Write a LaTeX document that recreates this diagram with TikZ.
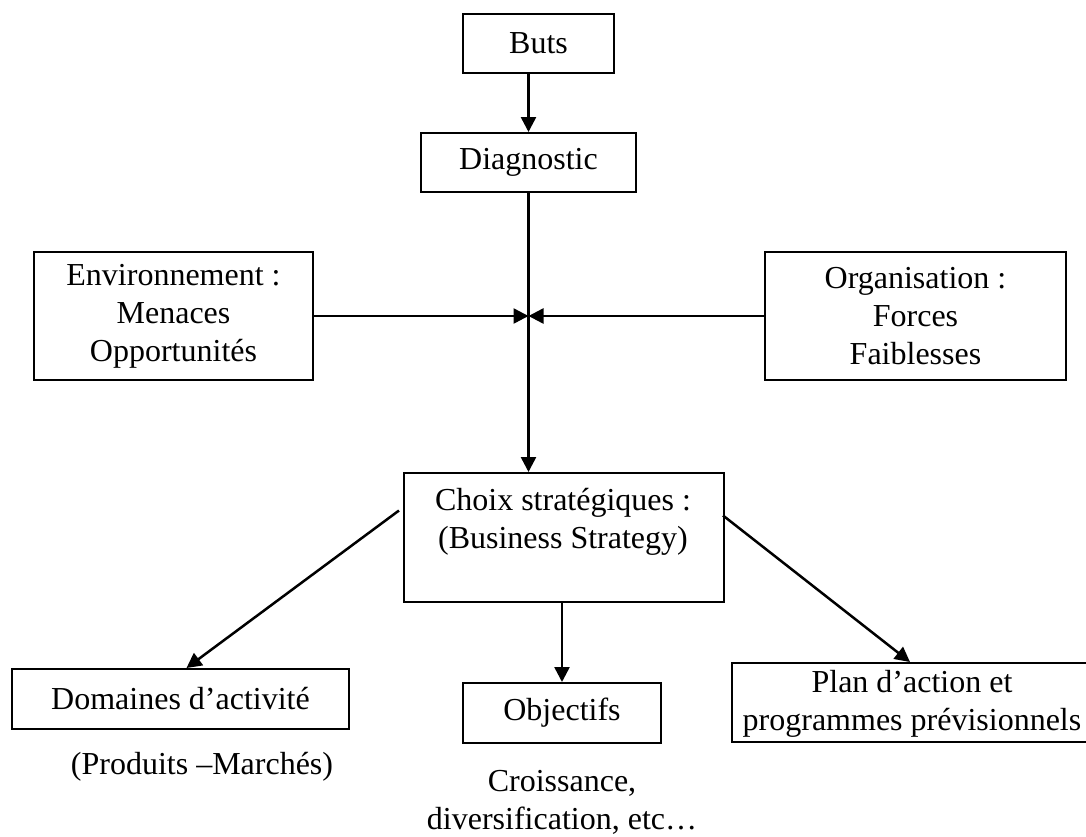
\documentclass[tikz,border=0pt]{standalone}
\usepackage{fontspec}
\setmainfont{Liberation Serif}
\usetikzlibrary{arrows.meta}
\begin{document}
\begin{tikzpicture}[x=1pt,y=-1pt,
  box/.style={draw=black,line width=2pt,inner sep=0pt,align=center},
  lbl/.style={inner sep=0pt,align=center},
  arr/.style={line width=2.5pt,-{Triangle[length=15pt,width=15pt]}},
  every node/.style={font=\fontsize{32}{38}\selectfont}]
\useasboundingbox (0,0) rectangle (1086,836);
\clip (0,0) rectangle (1086,836);
\node[box,minimum width=151,minimum height=59] (buts) at (538.5,43.5) {Buts};
\node[box,minimum width=215,minimum height=59] (diag) at (528.5,162.5) {Diagnostic};
\node[box,minimum width=279,minimum height=128] (env) at (173.5,316) {Environnement :\\Menaces\\Opportunités};
\node[box,minimum width=301,minimum height=128] (org) at (915.5,316) {Organisation :\\Forces\\Faiblesses};
\node[box,minimum width=320,minimum height=129] (choix) at (564,537.5) {};
\node[lbl] (choixt) at (563,522) {Choix stratégiques :\\(Business Strategy)};
\node[box,minimum width=337,minimum height=60] (dom) at (180.5,699) {Domaines d’activité};
\node[lbl] (domt) at (202,767) {(Produits –Marchés)};
\node[box,minimum width=198,minimum height=60] (obj) at (562,713) {Objectifs};
\node[lbl] (objt) at (562,802) {Croissance,\\diversification, etc…};
\node[box,minimum width=368,minimum height=79] (plan) at (916,702.5) {};
\node[lbl] (plant) at (912,704) {Plan d’action et\\programmes prévisionnels};
\coordinate (cl) at ([shift={(-4,-27)}]choix.west);
\coordinate (cr) at ([shift={(-2,-22)}]choix.east);
\draw[arr] (buts.south -| diag.north) -- (diag.north);
\draw[arr] (diag.south) -- (diag.south |- choix.north);
\draw[arr] (env.east) -- (env.east -| diag.south);
\draw[arr] (org.west) -- (org.west -| diag.south);
\draw[arr] (cl) -- ([xshift=6]dom.north);
\draw[arr] (cr) -- ([xshift=-6]plan.north);
\draw[arr] (choix.south -| obj.north) -- (obj.north);
\end{tikzpicture}
\end{document}
